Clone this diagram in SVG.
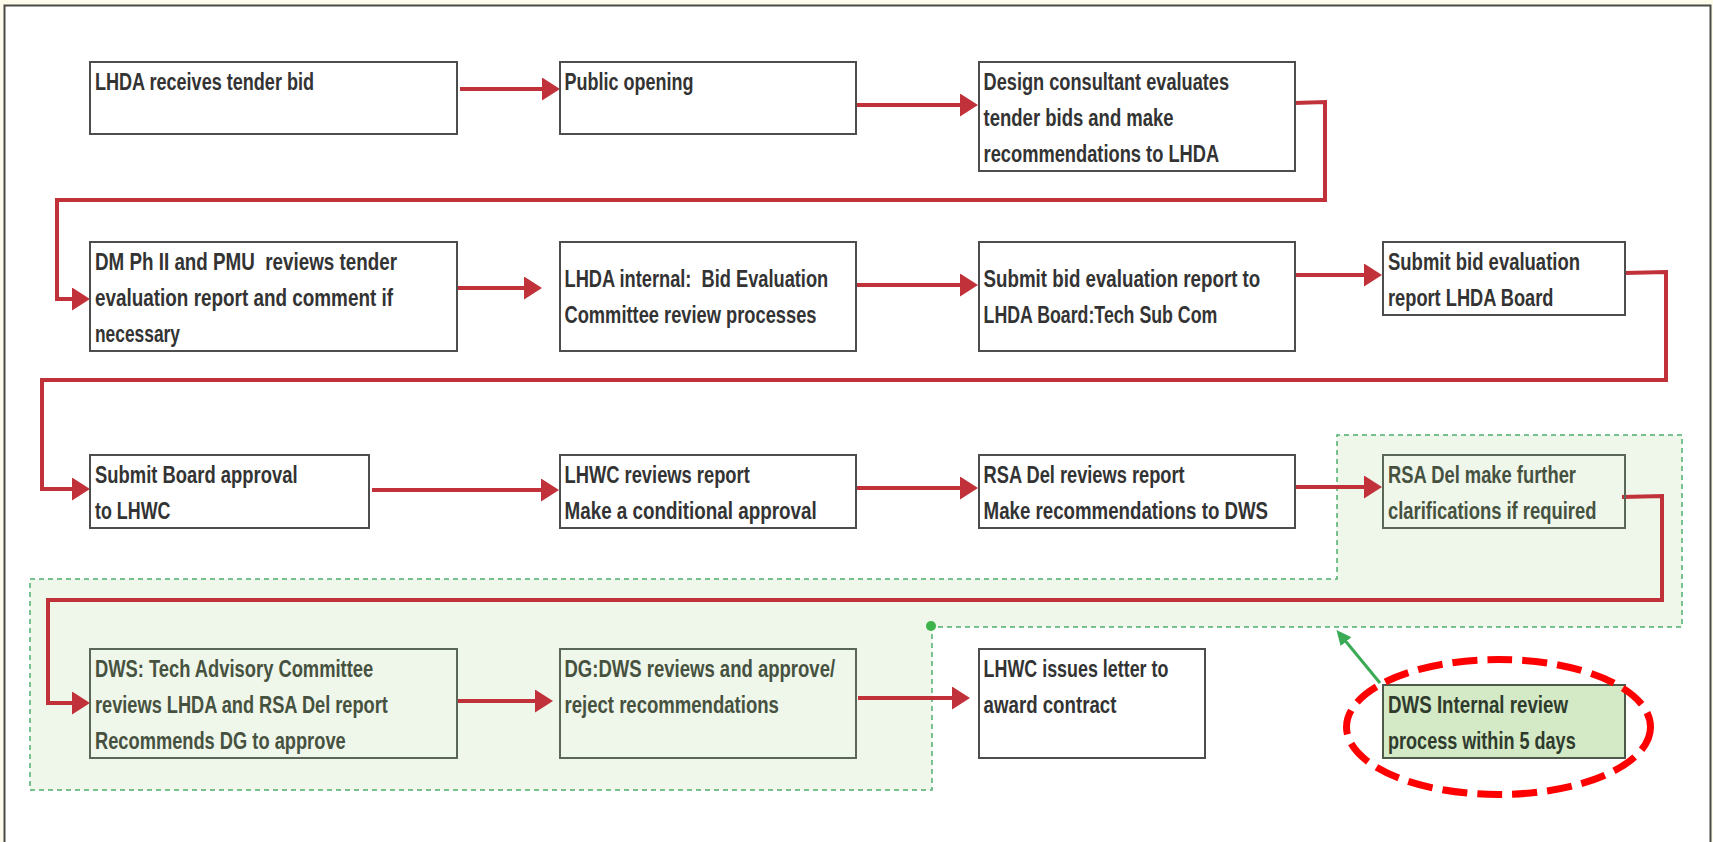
<svg xmlns="http://www.w3.org/2000/svg" width="1713" height="842" viewBox="0 0 1713 842">
<style>
.bx{fill:#fff;stroke:#4d4d4d;stroke-width:2}
.bxg{fill:none;stroke:#5a6656;stroke-width:2}
.t{font-family:"Liberation Sans",Arial,sans-serif;font-weight:bold;font-size:23px;fill:#333}
.tg{fill:#46523f}
.con{fill:none;stroke:#c1313a;stroke-width:4;marker-end:url(#ah)}
</style>
<defs>
<marker id="ah" markerUnits="userSpaceOnUse" markerWidth="19" markerHeight="24" refX="8" refY="11.5" orient="auto" viewBox="0 0 19 24"><path d="M0,0 L18,11.5 L0,23 z" fill="#c1313a"/></marker>
<marker id="gh" markerUnits="userSpaceOnUse" markerWidth="16" markerHeight="14" refX="6" refY="7" orient="auto" viewBox="0 0 16 14"><path d="M0,0 L15,7 L0,14 z" fill="#3aaa55"/></marker>
</defs>
<rect x="0" y="0" width="1713" height="842" fill="#fdfbea"/>
<rect x="4.5" y="5.5" width="1706" height="900" fill="#fff" stroke="#4a4a48" stroke-width="2"/>
<g id="region">
<path d="M30,579 H1337 V435 H1682 V627 H932 V790 H30 Z" fill="#eff6ea" stroke="#4fae6f" stroke-width="1.5" stroke-dasharray="5 4"/>
<circle cx="931" cy="626" r="5" fill="#3cb44b"/>
</g>
<g id="connectors">
<path class="con" d="M460,89 H550"/>
<path class="con" d="M857,105 H968"/>
<path class="con" d="M1294,103 L1325,102 V200 H57 V299 H80"/>
<path class="con" d="M456,288 H532"/>
<path class="con" d="M856,285 H968"/>
<path class="con" d="M1295,275 H1372"/>
<path class="con" d="M1624,273 L1666,272 V380 H42 V489 H80"/>
<path class="con" d="M372,490 H549"/>
<path class="con" d="M857,488 H968"/>
<path class="con" d="M1295,487 H1372"/>
<path class="con" d="M1622,497 L1662,496 V600 H48 V703 H80"/>
<path class="con" d="M458,701 H543"/>
<path class="con" d="M858,698 H960"/>
<path d="M1380,683 L1342.2,637" fill="none" stroke="#3aaa55" stroke-width="3" marker-end="url(#gh)"/>
</g>
<g id="nodeA"><rect class="bx" x="90" y="62" width="367" height="72"/>
<text class="t" x="95" y="90" textLength="219" lengthAdjust="spacingAndGlyphs">LHDA receives tender bid</text></g>
<g id="nodeB"><rect class="bx" x="560" y="62" width="296" height="72"/>
<text class="t" x="564.5" y="90" textLength="129" lengthAdjust="spacingAndGlyphs">Public opening</text></g>
<g id="nodeC"><rect class="bx" x="979" y="62" width="316" height="109"/>
<text class="t" x="983.6" y="90" textLength="245.5" lengthAdjust="spacingAndGlyphs">Design consultant evaluates</text>
<text class="t" x="983.6" y="126" textLength="190" lengthAdjust="spacingAndGlyphs">tender bids and make</text>
<text class="t" x="983.6" y="162" textLength="235.6" lengthAdjust="spacingAndGlyphs">recommendations to LHDA</text></g>
<g id="nodeD"><rect class="bx" x="90" y="242" width="367" height="109"/>
<text class="t" x="95" y="270" textLength="302" lengthAdjust="spacingAndGlyphs" xml:space="preserve">DM Ph II and PMU  reviews tender</text>
<text class="t" x="95" y="306" textLength="298" lengthAdjust="spacingAndGlyphs">evaluation report and comment if</text>
<text class="t" x="95" y="342" textLength="85" lengthAdjust="spacingAndGlyphs">necessary</text></g>
<g id="nodeE"><rect class="bx" x="560" y="242" width="296" height="109"/>
<text class="t" x="564.5" y="287" textLength="263.7" lengthAdjust="spacingAndGlyphs" xml:space="preserve">LHDA internal:  Bid Evaluation</text>
<text class="t" x="564.5" y="323" textLength="252" lengthAdjust="spacingAndGlyphs">Committee review processes</text></g>
<g id="nodeF"><rect class="bx" x="979" y="242" width="316" height="109"/>
<text class="t" x="983.6" y="287" textLength="276.7" lengthAdjust="spacingAndGlyphs">Submit bid evaluation report to</text>
<text class="t" x="983.6" y="323" textLength="233.7" lengthAdjust="spacingAndGlyphs">LHDA Board:Tech Sub Com</text></g>
<g id="nodeG"><rect class="bx" x="1383" y="242" width="242" height="73"/>
<text class="t" x="1388" y="270" textLength="192" lengthAdjust="spacingAndGlyphs">Submit bid evaluation</text>
<text class="t" x="1388" y="306" textLength="165.5" lengthAdjust="spacingAndGlyphs">report LHDA Board</text></g>
<g id="nodeH"><rect class="bx" x="90" y="455" width="279" height="73"/>
<text class="t" x="95" y="483" textLength="202.5" lengthAdjust="spacingAndGlyphs">Submit Board approval</text>
<text class="t" x="95" y="519" textLength="75.4" lengthAdjust="spacingAndGlyphs">to LHWC</text></g>
<g id="nodeI"><rect class="bx" x="560" y="455" width="296" height="73"/>
<text class="t" x="564.5" y="483" textLength="185.3" lengthAdjust="spacingAndGlyphs">LHWC reviews report</text>
<text class="t" x="564.5" y="519" textLength="252.2" lengthAdjust="spacingAndGlyphs">Make a conditional approval</text></g>
<g id="nodeJ"><rect class="bx" x="979" y="455" width="316" height="73"/>
<text class="t" x="983.6" y="483" textLength="201" lengthAdjust="spacingAndGlyphs">RSA Del reviews report</text>
<text class="t" x="983.6" y="519" textLength="284.5" lengthAdjust="spacingAndGlyphs">Make recommendations to DWS</text></g>
<g id="nodeK"><rect class="bxg" x="1383" y="455" width="242" height="73"/>
<text class="t tg" x="1388" y="483" textLength="188" lengthAdjust="spacingAndGlyphs">RSA Del make further</text>
<text class="t tg" x="1388" y="519" textLength="208.4" lengthAdjust="spacingAndGlyphs">clarifications if required</text></g>
<g id="nodeL"><rect class="bxg" x="90" y="649" width="367" height="109"/>
<text class="t tg" x="95" y="677" textLength="278.2" lengthAdjust="spacingAndGlyphs">DWS: Tech Advisory Committee</text>
<text class="t tg" x="95" y="713" textLength="292.8" lengthAdjust="spacingAndGlyphs">reviews LHDA and RSA Del report</text>
<text class="t tg" x="95" y="749" textLength="250.7" lengthAdjust="spacingAndGlyphs">Recommends DG to approve</text></g>
<g id="nodeM"><rect class="bxg" x="560" y="649" width="296" height="109"/>
<text class="t tg" x="564.5" y="677" textLength="270.6" lengthAdjust="spacingAndGlyphs">DG:DWS reviews and approve/</text>
<text class="t tg" x="564.5" y="713" textLength="214.4" lengthAdjust="spacingAndGlyphs">reject recommendations</text></g>
<g id="nodeN"><rect class="bx" x="979" y="649" width="226" height="109"/>
<text class="t" x="983.6" y="677" textLength="184.8" lengthAdjust="spacingAndGlyphs">LHWC issues letter to</text>
<text class="t" x="983.6" y="713" textLength="132.8" lengthAdjust="spacingAndGlyphs">award contract</text></g>
<g id="nodeO"><rect x="1383" y="685" width="242" height="73" fill="#d4e9c6" stroke="#4d5a4a" stroke-width="2"/>
<text class="t" x="1388" y="713" textLength="180" lengthAdjust="spacingAndGlyphs" style="fill:#2f3b2c">DWS Internal review</text>
<text class="t" x="1388" y="749" textLength="187.7" lengthAdjust="spacingAndGlyphs" style="fill:#2f3b2c">process within 5 days</text></g>
<g id="highlight"><ellipse cx="1498.5" cy="727" rx="152" ry="67.5" fill="none" stroke="#ff0000" stroke-width="7" stroke-dasharray="25 10"/></g>
</svg>
